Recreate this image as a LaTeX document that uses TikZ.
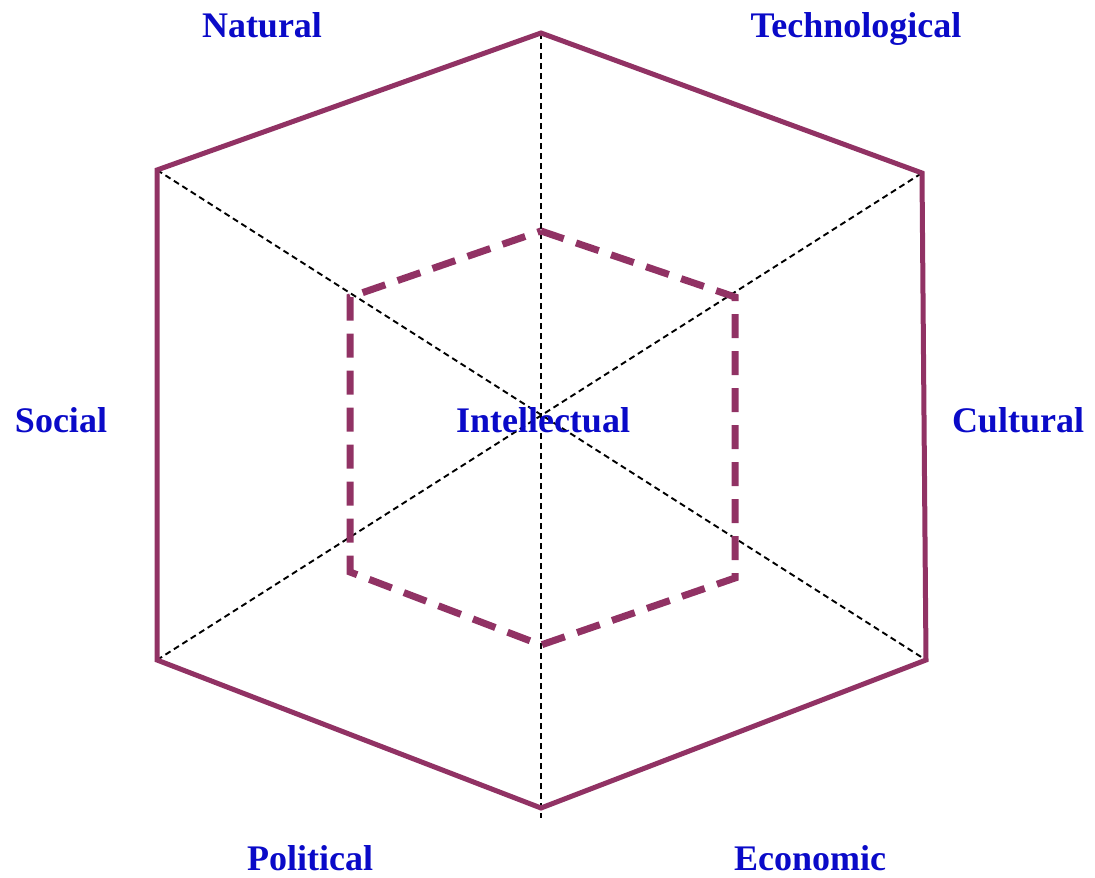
\documentclass[tikz,border=0pt]{standalone}
\usepackage{fontspec}
\setmainfont{Liberation Serif}
\definecolor{hexcol}{RGB}{145,50,100}
\definecolor{labcol}{RGB}{10,10,200}
\begin{document}
\begin{tikzpicture}[x=1pt,y=-1pt,
  outer/.style={draw=hexcol,line width=5pt,line join=miter},
  inner/.style={draw=hexcol,line width=7pt,dash pattern=on 24pt off 13pt},
  axis/.style={draw=black,line width=1.9pt,dash pattern=on 6pt off 4pt},
  lab/.style={text=labcol,font=\fontsize{36}{40}\selectfont\bfseries,inner sep=0pt,anchor=base}]
\useasboundingbox (0,0) rectangle (1095,878);
% outer vertices
\coordinate (T) at (541,33);
\coordinate (UR) at (922,173);
\coordinate (LR) at (926,660);
\coordinate (B) at (541,808);
\coordinate (LL) at (157,660);
\coordinate (UL) at (157,170);
\coordinate (Bend) at (541,818);
% inner vertices
\coordinate (iT) at (541,231);
\coordinate (iUR) at (735,297);
\coordinate (iLR) at (735,578);
\coordinate (iB) at (541,645);
\coordinate (iLL) at (350,572);
\coordinate (iUL) at (350,297);
% axes
\draw[axis] (T) -- (Bend);
\draw[axis] (UL) -- (LR);
\draw[axis] (LL) -- (UR);
% hexagons
\draw[outer] (T) -- (UR) -- (LR) -- (B) -- (LL) -- (UL) -- cycle;
\draw[inner] (iT) -- (iUR) -- (iLR) -- (iB) -- (iLL) -- (iUL) -- cycle;
% labels
\node[lab] (nat) at (262,37) {Natural};
\node[lab] (tec) at (856,37) {Technological};
\node[lab] (soc) at (61,432) {Social};
\node[lab] (cul) at (1018,432) {Cultural};
\node[lab] (pol) at (310,870) {Political};
\node[lab] (eco) at (810,870) {Economic};
\node[lab] (int) at (543,432) {Intellectual};
\end{tikzpicture}
\end{document}
